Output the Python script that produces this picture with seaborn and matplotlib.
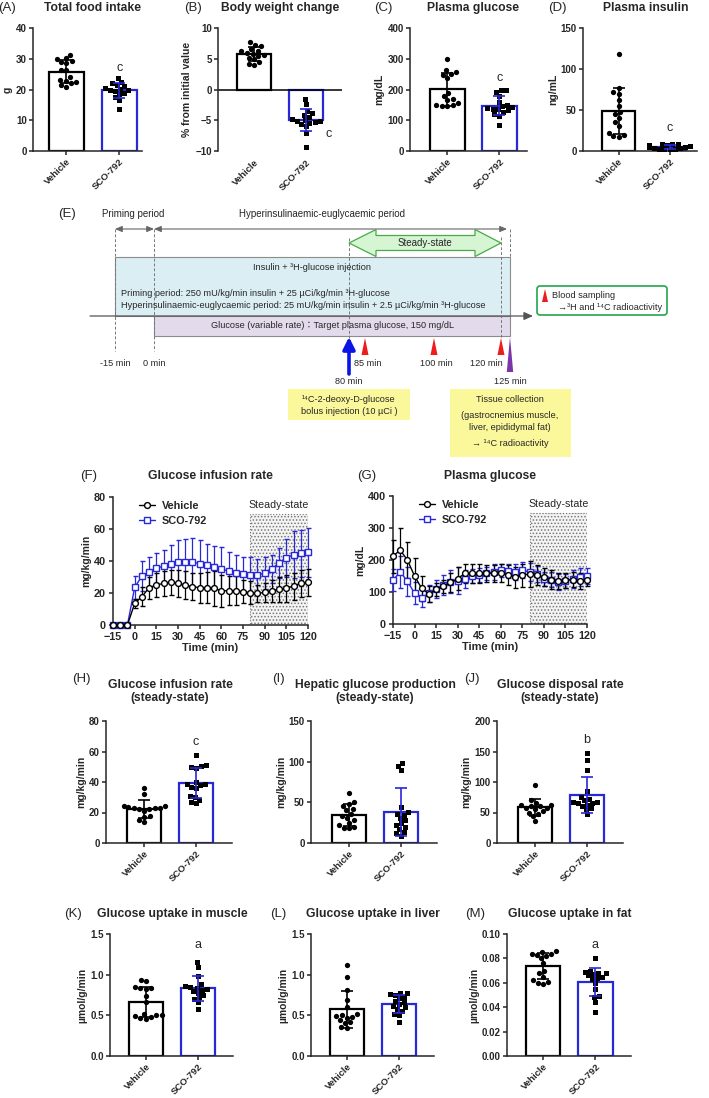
import warnings

import matplotlib

matplotlib.use("Agg")
import matplotlib.pyplot as plt
import pandas as pd
import seaborn as sns
from matplotlib.lines import Line2D
from matplotlib.patches import FancyBboxPatch, Polygon, Rectangle

warnings.filterwarnings("ignore")
sns.set_theme(style="ticks")
plt.rcParams["font.family"] = ["Liberation Sans", "DejaVu Sans", "Noto Sans CJK JP"]
plt.rcParams.update({
    "font.weight": "bold", "axes.labelweight": "bold", "axes.linewidth": 1.1,
    "xtick.major.width": 1.1, "ytick.major.width": 1.1,
    "xtick.major.size": 3, "ytick.major.size": 3,
    "xtick.major.pad": 1.5, "ytick.major.pad": 1.5,
    "xtick.labelsize": 6.8, "ytick.labelsize": 7, "axes.labelsize": 7.5,
    "hatch.linewidth": 0.7,
})

W, H = 709, 1098
GROUPS = ["Vehicle", "SCO-792"]
BLUE = "#2828d8"
PAL = {"Vehicle": "black", "SCO-792": BLUE}

# ---- individual animals (bar panels) ----
food_veh = [31.3, 30.3, 30.0, 29.2, 28.8, 28.6, 26.5, 26.2, 24.0, 23.2, 22.8, 22.3, 21.5, 20.9, 22.0]
food_sco = [23.8, 22.5, 22.0, 21.5, 21.0, 20.5, 20.2, 20.0, 19.8, 19.5, 19.0, 18.5, 17.5, 16.5, 13.8]
bw_veh = [7.8, 7.3, 7.0, 6.6, 6.3, 6.2, 6.0, 5.8, 5.6, 5.4, 5.2, 4.9, 4.5, 4.2, 4.0]
bw_sco = [-1.5, -2.3, -3.5, -3.8, -4.2, -4.5, -4.8, -5.0, -5.1, -5.2, -5.3, -5.4, -5.6, -6.0, -7.0, -9.3]
glu_veh = [300, 262, 258, 252, 248, 238, 190, 178, 170, 165, 155, 150, 148, 147, 145]
glu_sco = [200, 198, 192, 180, 160, 150, 146, 143, 140, 138, 135, 132, 128, 120, 115, 86]
ins_veh = [118, 77, 72, 70, 62, 55, 48, 45, 40, 35, 30, 22, 20, 18, 17]
ins_sco = [9, 8.5, 8, 7.5, 7, 6.5, 6, 5.5, 5, 4.5, 4, 3.5, 3, 2.5, 2, 1.5]
gir_veh = [36, 32, 24, 24, 23.5, 23, 23, 23, 22.5, 22, 21, 18, 17, 15, 13.5]
gir_sco = [58, 51, 50.5, 50, 49, 40, 39, 38.5, 38, 37, 36, 31, 30, 28.5, 27, 26]
hgp_veh = [62, 50, 48, 45, 42, 40, 36, 33, 31, 28, 25, 22, 20, 19, 18]
hgp_sco = [98, 95, 90, 44, 38, 36, 34, 31, 28, 25, 22, 20, 17, 14, 12, 9]
gdr_veh = [95, 70, 66, 63, 62, 61, 60, 58, 57, 55, 52, 50, 47, 44, 36]
gdr_sco = [147, 136, 120, 86, 76, 72, 70, 68, 67, 66, 65, 63, 60, 57, 55, 47]
mus_veh = [0.94, 0.92, 0.85, 0.84, 0.83, 0.82, 0.74, 0.66, 0.52, 0.50, 0.50, 0.49, 0.48, 0.47, 0.46]
mus_sco = [1.16, 1.10, 0.98, 0.88, 0.86, 0.85, 0.84, 0.82, 0.81, 0.80, 0.78, 0.75, 0.72, 0.70, 0.66, 0.58]
liv_veh = [1.12, 0.97, 0.81, 0.69, 0.60, 0.52, 0.50, 0.49, 0.48, 0.47, 0.44, 0.42, 0.41, 0.36, 0.35]
liv_sco = [0.78, 0.77, 0.76, 0.75, 0.73, 0.71, 0.68, 0.66, 0.64, 0.62, 0.60, 0.58, 0.55, 0.52, 0.50, 0.42]
fat_veh = [0.086, 0.085, 0.084, 0.084, 0.083, 0.082, 0.080, 0.076, 0.070, 0.068, 0.065, 0.062, 0.061, 0.060, 0.059]
fat_sco = [0.080, 0.070, 0.069, 0.068, 0.068, 0.067, 0.066, 0.065, 0.064, 0.063, 0.060, 0.055, 0.049, 0.048, 0.044, 0.036]

# ---- clamp time courses (mean, SD), every 5 min from -15 to 120 ----
TIME = list(range(-15, 121, 5))
gir_t_veh = [0, 0, 0, 13.5, 17.7, 23.3, 25, 26, 26.6, 26, 25, 24, 23.3, 23.3, 22.9, 21.4, 21.4, 21.4,
             20.8, 20.2, 19.7, 20.4, 21.4, 22.2, 22.9, 24.3, 26, 26.6]
gir_t_veh_sd = [0, 0, 0, 3, 6, 7, 7.3, 7.7, 8, 8.3, 8.8, 8.4, 9.4, 9.8, 11, 10, 9, 9,
                7.3, 7.1, 5.6, 5.9, 6.9, 7.7, 8.4, 8.5, 8.5, 8.5]
gir_t_sco = [0, 0, 0, 23.5, 30.5, 33, 35.5, 36.8, 38, 39.3, 39.5, 39.3, 38.4, 37.2, 36, 34.7, 33.9, 32.6,
             31.6, 31.4, 31, 32.6, 35.1, 38.9, 42, 44, 44.7, 45.5]
gir_t_sco_sd = [0, 0, 0, 7.3, 9.4, 9.2, 9.2, 10, 11.9, 14.1, 14.5, 15.1, 15, 13.7, 13.2, 14.1, 11.8, 11,
                10.6, 10.8, 10.4, 10, 8.9, 9.5, 12, 14.8, 14.5, 15.2]
pg_t_veh = [212, 231, 200, 150, 111, 94, 108, 118, 130, 142, 158, 158, 158, 158, 158, 160, 153, 146,
            153, 156, 153, 146, 139, 135, 137, 139, 134, 137]
pg_t_veh_sd = [52, 69, 57, 55, 40, 25, 19, 21, 30, 35, 31, 29, 29, 26, 26, 29, 31, 33,
               36, 40, 31, 28, 29, 25, 23, 24, 24, 19]
pg_t_sco = [137, 163, 134, 96, 82, 96, 108, 122, 132, 135, 142, 150, 153, 158, 164, 168, 166, 161,
            168, 163, 156, 142, 139, 130, 134, 142, 148, 150]
pg_t_sco_sd = [35, 50, 45, 35, 28, 26, 28, 32, 36, 42, 28, 22, 22, 20, 25, 20, 22, 25,
               25, 28, 25, 22, 22, 25, 22, 28, 28, 25]
SS_START, SS_END = 80, 120

# ---- protocol schematic (positions are schematic, not to scale) ----
SCHEME_T = [-15, 0, 80, 85, 100, 120, 125]
SCHEME_X = [115, 154, 349, 365, 434, 501, 510]
SAMPLING_T = [85, 100, 120]


def px_axes(fig, x0, y0, x1, y1):
    return fig.add_axes([x0 / W, 1 - y1 / H, (x1 - x0) / W, (y1 - y0) / H])


def label(fig, x, y, s, **kw):
    kw.setdefault("ha", "center")
    kw.setdefault("va", "center")
    fig.text(x / W, 1 - y / H, s, **kw)


def panel_head(fig, lx, tx, y, letter, title):
    label(fig, lx, y, letter, fontsize=9.5, fontweight="normal")
    label(fig, tx, y, title, fontsize=8.7, fontweight="bold", linespacing=1.15,
          va="top" if "\n" in title else "center")


def bar_panel(fig, box, veh, sco, yticks, ylabel, xlim, sig=None, sig_y=None, sig_dx=0.0,
              zero_line=False):
    ax = px_axes(fig, *box)
    df = pd.DataFrame({"group": ["Vehicle"] * len(veh) + ["SCO-792"] * len(sco),
                       "value": list(veh) + list(sco)})
    sns.barplot(data=df, x="group", y="value", hue="group", order=GROUPS, hue_order=GROUPS,
                palette=PAL, saturation=1, fill=False, errorbar=None, width=0.66,
                linewidth=1.6, legend=False, ax=ax)
    for g, mk, sz in zip(GROUPS, ["o", "s"], [3.8, 3.6]):
        sns.swarmplot(data=df[df.group == g], x="group", y="value", order=GROUPS,
                      color="black", marker=mk, size=sz, linewidth=0, ax=ax, zorder=3)
    stats = df.groupby("group")["value"].agg(["mean", "std"]).reindex(GROUPS)
    for i, g in enumerate(GROUPS):
        ax.errorbar(i, stats.loc[g, "mean"], yerr=stats.loc[g, "std"], fmt="none",
                    ecolor=PAL[g], elinewidth=1.2, capsize=4.5, capthick=1.2, zorder=4)
    ax.set_ylim(yticks[0], yticks[-1])
    ax.set_yticks(yticks)
    ax.set_xlim(*xlim)
    ax.set_xlabel("")
    ax.set_ylabel(ylabel, labelpad=2)
    sns.despine(ax=ax)
    ax.tick_params(axis="x", labelrotation=45)
    for t in ax.get_xticklabels():
        t.set_ha("right")
        t.set_rotation_mode("anchor")
    if zero_line:
        ax.spines["bottom"].set_visible(False)
        ax.axhline(0, color="black", lw=1.1)
        ax.tick_params(axis="x", length=0, pad=5)
    if sig:
        ax.text(1 + sig_dx, sig_y, sig, ha="center", va="center", fontsize=9,
                fontweight="normal")
    return ax


def time_panel(fig, box, veh_m, veh_sd, sco_m, sco_sd, yticks, ylabel):
    ax = px_axes(fig, *box)
    top = yticks[-1]
    ax.add_patch(Rectangle((SS_START, 0), SS_END - SS_START, 0.865 * top, facecolor="#f4f4f4",
                           edgecolor="#777777", hatch=".....", linestyle=":", lw=0.8, zorder=0))
    ax.text((SS_START + SS_END) / 2, 0.94 * top, "Steady-state", ha="center", va="center",
            fontsize=7.7, fontweight="normal")
    for m, sd, g, mk in [(sco_m, sco_sd, "SCO-792", "s"), (veh_m, veh_sd, "Vehicle", "o")]:
        ax.errorbar(TIME, m, yerr=sd, color=PAL[g], marker=mk, ms=4.2, mfc="white", mec=PAL[g],
                    mew=1.0, lw=1.0, elinewidth=0.9, capsize=1.8, capthick=0.9, clip_on=False,
                    zorder=3)
    handles = [Line2D([], [], color=PAL[g], marker=mk, mfc="white", mec=PAL[g], ms=4.2, lw=1.0)
               for g, mk in zip(GROUPS, ["o", "s"])]
    ax.legend(handles, GROUPS, loc="upper left", bbox_to_anchor=(0.1, 1.02), frameon=False,
              fontsize=7.8, handlelength=1.5, handletextpad=0.6, labelspacing=0.45,
              borderaxespad=0.2)
    ax.set_xlim(TIME[0], TIME[-1])
    ax.set_xticks(range(-15, 121, 15))
    ax.tick_params(axis="both", labelsize=7.8, pad=2)
    ax.set_ylim(yticks[0], top)
    ax.set_yticks(yticks)
    ax.set_xlabel("Time (min)", fontsize=8, labelpad=1)
    ax.set_ylabel(ylabel, labelpad=2)
    sns.despine(ax=ax)
    return ax


def protocol_panel(fig):
    ax = fig.add_axes([0, 1 - 462 / H, 1, 262 / H])
    ax.set_xlim(0, W)
    ax.set_ylim(462, 200)
    ax.axis("off")
    sx = dict(zip(SCHEME_T, SCHEME_X))
    gray = "#666666"
    txt = dict(fontsize=6.6, fontweight="normal", ha="center", va="center")

    ax.text(67, 214, "(E)", fontsize=9.5, fontweight="normal", ha="center", va="center")
    ax.text(133, 214, "Priming period", **{**txt, "fontsize": 7})
    ax.text(322, 214, "Hyperinsulinaemic-euglycaemic period", **{**txt, "fontsize": 7})
    arr = dict(arrowstyle="<|-|>,head_length=0.35,head_width=0.15", color=gray, lw=0.8,
               shrinkA=0, shrinkB=0)
    ax.annotate("", xy=(sx[0], 229), xytext=(sx[-15], 229), arrowprops=arr)
    ax.annotate("", xy=(507, 229), xytext=(sx[0], 229), arrowprops=arr)

    dash = dict(color="#777777", lw=0.7, ls=(0, (3, 2)), zorder=3)
    ax.plot([sx[-15]] * 2, [229, 351], **dash)
    ax.plot([sx[0]] * 2, [229, 351], **dash)
    ax.plot([sx[80]] * 2, [238, 343], **dash)
    ax.plot([sx[120]] * 2, [237, 338], **dash)
    ax.plot([sx[125]] * 2, [229, 258], **dash)

    # steady-state block arrow
    y0, hh, bh = 243, 13.5, 7.5
    pts = [(sx[80], y0), (376, y0 - hh), (376, y0 - bh), (475, y0 - bh), (475, y0 - hh),
           (sx[120], y0), (475, y0 + hh), (475, y0 + bh), (376, y0 + bh), (376, y0 + hh)]
    ax.add_patch(Polygon(pts, closed=True, facecolor="#d6f5d2", edgecolor="#4aa84a", lw=0.9,
                         zorder=4))
    ax.text(425, y0, "Steady-state", **{**txt, "fontsize": 7}, zorder=5)

    ax.add_patch(Rectangle((sx[-15], 257), sx[125] - sx[-15], 59, facecolor="#dbeef3",
                           edgecolor="#8c8c8c", lw=0.8, zorder=1))
    ax.add_patch(Rectangle((sx[0], 316), sx[125] - sx[0], 20, facecolor="#e3dbeb",
                           edgecolor="#8c8c8c", lw=0.8, zorder=1))
    ax.annotate("", xy=(533, 316), xytext=(90, 316),
                arrowprops=dict(arrowstyle="-|>,head_length=0.45,head_width=0.2",
                                color="#555555", lw=0.9, shrinkA=0, shrinkB=0), zorder=2)
    ax.text(312, 268, "Insulin + ³H-glucose injection", **txt, zorder=5)
    ax.text(121, 293, "Priming period: 250 mU/kg/min insulin + 25 µCi/kg/min ³H-glucose",
            **{**txt, "ha": "left"}, zorder=5)
    ax.text(121, 306, "Hyperinsulinaemic-euglycaemic period: 25 mU/kg/min insulin + "
                      "2.5 µCi/kg/min ³H-glucose", **{**txt, "ha": "left"}, zorder=5)
    ax.text(333, 326, "Glucose (variable rate)：Target plasma glucose, 150 mg/dL", **txt,
            zorder=5)

    # events
    ax.annotate("", xy=(sx[80], 337), xytext=(sx[80], 374),
                arrowprops=dict(arrowstyle="-|>,head_length=0.6,head_width=0.3",
                                color="#0a14e6", lw=2.6, shrinkA=0, shrinkB=0))
    for t in SAMPLING_T:
        x = sx[t]
        ax.add_patch(Polygon([(x - 3.5, 355), (x, 338), (x + 3.5, 355)], facecolor="#ee1c1c",
                             edgecolor="none"))
    x = sx[125]
    ax.add_patch(Polygon([(x - 3.2, 372), (x, 337), (x + 3.2, 372)], facecolor="#7a35a8",
                         edgecolor="none"))
    ax.text(sx[-15], 363, "-15 min", **txt)
    ax.text(sx[0], 363, "0 min", **txt)
    ax.text(sx[85] + 3, 363, "85 min", **txt)
    ax.text(sx[100] + 2, 363, "100 min", **txt)
    ax.text(sx[120] - 15, 363, "120 min", **txt)
    ax.text(sx[80], 382, "80 min", **txt)
    ax.text(sx[125], 382, "125 min", **txt)

    yellow = "#fbf89c"
    ax.add_patch(Rectangle((288, 389), 122, 31, facecolor=yellow, edgecolor="none"))
    ax.text(349, 399, "¹⁴C-2-deoxy-D-glucose", **txt)
    ax.text(349, 411, "bolus injection (10 µCi )", **txt)
    ax.add_patch(Rectangle((450, 389), 121, 68, facecolor=yellow, edgecolor="none"))
    ax.text(510, 399, "Tissue collection", **txt)
    ax.text(510, 416, "(gastrocnemius muscle,", **txt)
    ax.text(510, 427, "liver, epididymal fat)", **txt)
    ax.text(510, 443, "→ ¹⁴C radioactivity", **txt)

    ax.add_patch(FancyBboxPatch((537, 286), 130, 29, boxstyle="round,pad=0,rounding_size=3",
                                facecolor="white", edgecolor="#22a64b", lw=1.2))
    ax.add_patch(Polygon([(542, 302), (545, 289), (548, 302)], facecolor="#ee1c1c",
                         edgecolor="none"))
    ax.text(552, 296, "Blood sampling", **{**txt, "ha": "left"})
    ax.text(558, 307, "→³H and ¹⁴C radioactivity", **{**txt, "ha": "left"})


fig = plt.figure(figsize=(W / 100, H / 100), dpi=100)

# (A)-(D)
XL_TOP = [(-0.63, 1.43), (-0.7, 1.7), (-0.72, 1.53), (-0.7, 1.54)]
bar_panel(fig, (33, 28, 142, 151), food_veh, food_sco, [0, 10, 20, 30, 40], "g", XL_TOP[0],
          sig="c", sig_y=27)
bar_panel(fig, (218, 28, 342, 151), bw_veh, bw_sco, [-10, -5, 0, 5, 10],
          "% from initial value", XL_TOP[1], sig="c", sig_y=-7.3, sig_dx=0.45, zero_line=True)
bar_panel(fig, (410, 28, 527, 151), glu_veh, glu_sco, [0, 100, 200, 300, 400], "mg/dL",
          XL_TOP[2], sig="c", sig_y=237)
bar_panel(fig, (583, 28, 697, 151), ins_veh, ins_sco, [0, 50, 100, 150], "ng/mL", XL_TOP[3],
          sig="c", sig_y=28)
panel_head(fig, 7, 93, 8, "(A)", "Total food intake")
panel_head(fig, 193, 280, 8, "(B)", "Body weight change")
panel_head(fig, 383, 473, 8, "(C)", "Plasma glucose")
panel_head(fig, 557, 646, 8, "(D)", "Plasma insulin")

# (E)
protocol_panel(fig)

# (F), (G)
time_panel(fig, (113, 497, 308, 625), gir_t_veh, gir_t_veh_sd, gir_t_sco, gir_t_sco_sd,
           [0, 20, 40, 60, 80], "mg/kg/min")
time_panel(fig, (393, 496, 587, 624), pg_t_veh, pg_t_veh_sd, pg_t_sco, pg_t_sco_sd,
           [0, 100, 200, 300, 400], "mg/dL")
panel_head(fig, 89, 210, 476, "(F)", "Glucose infusion rate")
panel_head(fig, 367, 490, 476, "(G)", "Plasma glucose")

# (H)-(J)
XL_MID = (-0.74, 1.7)
bar_panel(fig, (106, 721, 232, 843), gir_veh, gir_sco, [0, 20, 40, 60, 80], "mg/kg/min",
          XL_MID, sig="c", sig_y=66)
bar_panel(fig, (311, 721, 437, 843), hgp_veh, hgp_sco, [0, 50, 100, 150], "mg/kg/min", XL_MID)
bar_panel(fig, (497, 721, 623, 843), gdr_veh, gdr_sco, [0, 50, 100, 150, 200], "mg/kg/min",
          XL_MID, sig="b", sig_y=169)
panel_head(fig, 81, 170, 679, "(H)", "Glucose infusion rate\n(steady-state)")
panel_head(fig, 278, 375, 679, "(I)", "Hepatic glucose production\n(steady-state)")
panel_head(fig, 472, 560, 679, "(J)", "Glucose disposal rate\n(steady-state)")

# (K)-(M)
XL_BOT = (-0.69, 1.68)
bar_panel(fig, (110, 934, 233, 1056), mus_veh, mus_sco, [0.0, 0.5, 1.0, 1.5], "µmol/g/min",
          XL_BOT, sig="a", sig_y=1.37)
bar_panel(fig, (311, 934, 434, 1056), liv_veh, liv_sco, [0.0, 0.5, 1.0, 1.5], "µmol/g/min",
          XL_BOT)
bar_panel(fig, (507, 934, 631, 1056), fat_veh, fat_sco, [0.0, 0.02, 0.04, 0.06, 0.08, 0.10],
          "µmol/g/min", XL_BOT, sig="a", sig_y=0.0913)
panel_head(fig, 73, 172, 914, "(K)", "Glucose uptake in muscle")
panel_head(fig, 278, 373, 914, "(L)", "Glucose uptake in liver")
panel_head(fig, 475, 570, 914, "(M)", "Glucose uptake in fat")

fig.savefig("out.png", dpi=100)
